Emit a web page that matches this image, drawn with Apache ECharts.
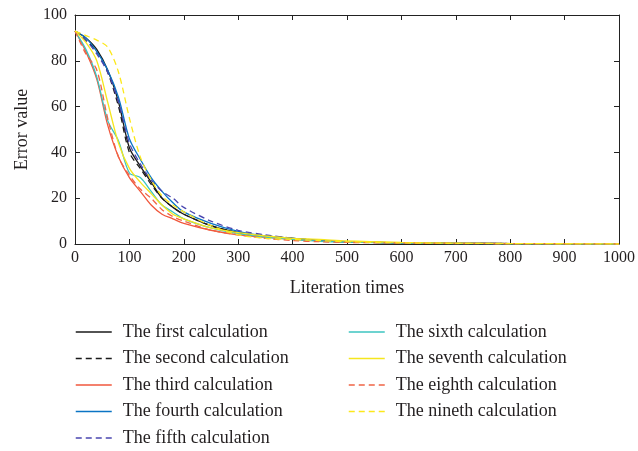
<!DOCTYPE html>
<html>
<head>
<meta charset="utf-8">
<script src="https://cdn.jsdelivr.net/npm/echarts@6/dist/echarts.min.js"></script>
<style>
  html, body { margin: 0; padding: 0; background: #fff; }
  #chart { width: 638px; height: 451px; }
</style>
</head>
<body>
<div id="chart"></div>
<script>
// iteration steps shared by every run
var iterations = [0, 20, 40, 60, 80, 100, 120, 140, 160, 180, 200, 250, 300, 350, 400, 450, 500, 600, 700, 800, 900, 1000];

var firstCalc   = [93, 90, 85, 76, 62, 42, 34, 27, 20, 16, 13, 8, 5, 3.5, 2.5, 1.5, 1, 0.5, 0.3, 0.2, 0.1, 0];
var secondCalc  = [93, 89, 84, 75, 60, 40, 33, 26, 20, 16, 13, 8, 5, 3.5, 2.5, 1.5, 1, 0.5, 0.3, 0.2, 0.1, 0];
var thirdCalc   = [93, 84, 72, 52, 38, 29, 23, 17, 13, 11, 9, 6, 4, 3, 2, 1.5, 1, 0.5, 0.3, 0.2, 0.1, 0];
var fourthCalc  = [93, 90, 84, 76, 64, 46, 37, 29, 23, 18, 14, 9, 5.5, 3.5, 2.5, 1.5, 1, 0.5, 0.3, 0.2, 0.1, 0];
var fifthCalc   = [93, 89, 83, 75, 62, 44, 35, 28, 23, 20, 16, 10, 6, 4, 2.5, 1.5, 1, 0.5, 0.3, 0.2, 0.1, 0];
var sixthCalc   = [93, 85, 73, 54, 45, 31, 29, 23, 17, 14, 11, 7, 4.5, 3, 2, 1.2, 0.8, 0.4, 0.2, 0.1, 0.1, 0];
var seventhCalc = [93, 88, 80, 62, 44, 33, 27, 22, 17, 13, 11, 7, 5, 3.5, 2.5, 2, 1.3, 0.7, 0.4, 0.2, 0.1, 0];
var eighthCalc  = [93, 83, 76, 55, 38, 30, 24, 20, 15, 12, 10, 6, 4, 2.5, 1.5, 1, 0.7, 0.4, 0.2, 0.1, 0.1, 0];
var ninethCalc  = [93, 91, 89, 86, 75, 55, 38, 28, 21, 17, 14, 8, 4, 2.5, 2, 1.5, 1, 0.5, 0.3, 0.2, 0.1, 0];

var names = ["The first calculation", "The second calculation", "The third calculation",
  "The fourth calculation", "The fifth calculation", "The sixth calculation",
  "The seventh calculation", "The eighth calculation", "The nineth calculation"];

var textColor = "#231f20";
var serif = "Liberation Serif, DejaVu Serif, serif";

function pairs(vals) {
  return iterations.map(function (x, i) { return [x, vals[i]]; });
}

function line(name, vals, color, dashed) {
  return {
    name: name,
    type: "line",
    data: pairs(vals),
    symbol: "none",
    smooth: 0.3,
    lineStyle: { color: color, width: 1.3, type: dashed ? [6, 4] : "solid" },
    itemStyle: { color: color }
  };
}

var chart = echarts.init(document.getElementById("chart"));
var axisCommon = {
  axisLine: { show: true, onZero: false, lineStyle: { color: "#222", width: 1 } },
  axisTick: { show: true, inside: true, length: 5, lineStyle: { color: "#222" } },
  splitLine: { show: false }
};
var legendCommon = {
  orient: "vertical", top: 318, height: 140,
  itemWidth: 36, itemHeight: 12, itemGap: 8.5,
  itemStyle: { opacity: 0 },
  lineStyle: { width: 1.5 },
  textStyle: { fontFamily: serif, fontSize: 18, color: textColor, padding: [0, 0, 0, 6] }
};

chart.setOption({
  animation: false,
  grid: { left: 75, right: 18, top: 15, bottom: 207 },
  legend: [
    Object.assign({ data: names.slice(0, 5), left: 70 }, legendCommon),
    Object.assign({ data: names.slice(5), left: 343 }, legendCommon)
  ],
  xAxis: [
    Object.assign({
      type: "value", min: 0, max: 1000, interval: 100,
      name: "Literation times", nameLocation: "middle", nameGap: 35,
      nameTextStyle: { fontFamily: serif, fontSize: 18, color: textColor },
      axisLabel: { fontFamily: serif, fontSize: 16, color: textColor, margin: 6,
        formatter: function (v) { return String(v); } }
    }, axisCommon),
    Object.assign({
      type: "value", min: 0, max: 1000, interval: 100, position: "top",
      axisLabel: { show: false }
    }, axisCommon)
  ],
  yAxis: [
    Object.assign({
      type: "value", min: 0, max: 100, interval: 20,
      name: "Error value", nameLocation: "middle", nameGap: 44,
      nameTextStyle: { fontFamily: serif, fontSize: 18, color: textColor },
      axisLabel: { fontFamily: serif, fontSize: 16, color: textColor, margin: 8 }
    }, axisCommon),
    Object.assign({
      type: "value", min: 0, max: 100, interval: 20, position: "right",
      axisLabel: { show: false }
    }, axisCommon)
  ],
  series: [
    line(names[0], firstCalc, "#1a1a1a", false),
    line(names[1], secondCalc, "#1a1a1a", true),
    line(names[2], thirdCalc, "#f0573c", false),
    line(names[3], fourthCalc, "#0a74c4", false),
    line(names[4], fifthCalc, "#4a46b0", true),
    line(names[5], sixthCalc, "#3cc4c0", false),
    line(names[6], seventhCalc, "#f5e61e", false),
    line(names[7], eighthCalc, "#f06446", true),
    line(names[8], ninethCalc, "#fce81a", true)
  ]
});
</script>
</body>
</html>
